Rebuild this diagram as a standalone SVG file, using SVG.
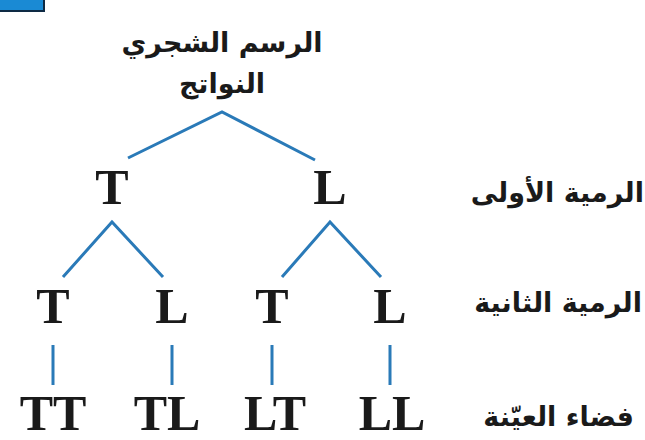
<svg xmlns="http://www.w3.org/2000/svg" width="645" height="440" viewBox="0 0 645 440">
<style>
.n{font-family:"Liberation Serif","Times New Roman",serif;font-weight:bold;font-size:50px;fill:#1a1a1a;text-anchor:middle}
.a{font-family:"DejaVu Sans","Noto Sans",sans-serif;font-weight:bold;font-size:27px;fill:#1a1a1a;direction:rtl}
.e{stroke:#2a7ab8;stroke-width:3;fill:none;stroke-linecap:butt}
</style>
<rect width="645" height="440" fill="#ffffff"/>
<g id="tab">
<rect x="-4" y="-4" width="48" height="15" fill="#1a8ad4" stroke="#0e2a44" stroke-width="2"/>
</g>
<g id="title">
<text class="a" x="222" y="52" text-anchor="middle" font-size="28">الرسم الشجري</text>
<text class="a" x="222" y="93" text-anchor="middle" font-size="28">النواتج</text>
</g>
<g id="connectors">
<path class="e" d="M128,158 L222,112 L315,160"/>
<path class="e" d="M63,277 L112,222 L163,277"/>
<path class="e" d="M282,277 L330,222 L381,277"/>
<path class="e" d="M53,345 V385 M172,345 V385 M272,345 V385 M390,345 V385"/>
</g>
<g id="n1"><text class="n" x="112" y="204">T</text></g>
<g id="n2"><text class="n" x="330" y="204">L</text></g>
<g id="n3"><text class="n" x="53" y="323">T</text></g>
<g id="n4"><text class="n" x="172" y="323">L</text></g>
<g id="n5"><text class="n" x="272" y="323">T</text></g>
<g id="n6"><text class="n" x="390" y="323">L</text></g>
<g id="n7"><text class="n" x="53" y="430" font-size="47">TT</text></g>
<g id="n8"><text class="n" x="167" y="430" font-size="47">TL</text></g>
<g id="n9"><text class="n" x="275" y="430" font-size="47">LT</text></g>
<g id="n10"><text class="n" x="392" y="430" font-size="47">LL</text></g>
<g id="labels">
<text class="a" x="644" y="202" text-anchor="start">الرمية الأولى</text>
<text class="a" x="642" y="312" text-anchor="start">الرمية الثانية</text>
<text class="a" x="634" y="426" text-anchor="start">فضاء العيّنة</text>
</g>
</svg>
